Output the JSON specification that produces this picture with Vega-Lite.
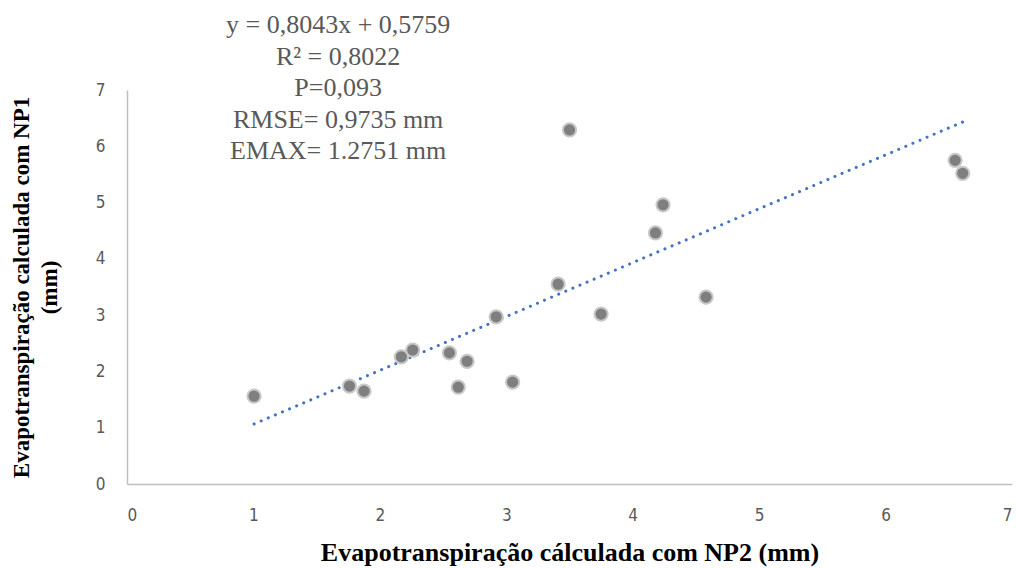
{
  "$schema": "https://vega.github.io/schema/vega-lite/v6.json",
  "autosize": "none",
  "width": 885,
  "height": 394,
  "padding": {"left": 127, "top": 90, "right": 4, "bottom": 84},
  "background": "white",
  "config": {"view": {"stroke": null}},
  "datasets": {
    "pts": [
      {"np2": 1.005, "np1": 1.56},
      {"np2": 1.76, "np1": 1.74},
      {"np2": 1.875, "np1": 1.65},
      {"np2": 2.17, "np1": 2.26},
      {"np2": 2.26, "np1": 2.38},
      {"np2": 2.55, "np1": 2.33},
      {"np2": 2.62, "np1": 1.72},
      {"np2": 2.69, "np1": 2.18},
      {"np2": 2.92, "np1": 2.97},
      {"np2": 3.05, "np1": 1.81},
      {"np2": 3.41, "np1": 3.55},
      {"np2": 3.50, "np1": 6.29},
      {"np2": 3.75, "np1": 3.02},
      {"np2": 4.18, "np1": 4.46},
      {"np2": 4.24, "np1": 4.96},
      {"np2": 4.58, "np1": 3.32},
      {"np2": 6.55, "np1": 5.75},
      {"np2": 6.61, "np1": 5.52}
    ],
    "trend": [
      {"np2": 1.005, "np1": 1.066},
      {"np2": 6.63, "np1": 6.45}
    ],
    "note": [
      {"np2": 1.67, "np1": 8.15, "txt": ["y = 0,8043x + 0,5759", "R² = 0,8022", "P=0,093", "RMSE= 0,9735 mm", "EMAX= 1.2751 mm"]}
    ]
  },
  "layer": [
    {
      "data": {"name": "trend"},
      "mark": {"type": "line", "color": "#4472c4", "strokeWidth": 3, "strokeDash": [0.1, 7.6], "strokeCap": "round"},
      "encoding": {
        "x": {
          "field": "np2", "type": "quantitative",
          "scale": {"domain": [0, 7]},
          "axis": {
            "title": "Evapotranspiração cálculada com NP2 (mm)",
            "titleFont": "Liberation Serif", "titleFontSize": 26, "titleFontWeight": "bold", "titleColor": "#000000",
            "titlePadding": 16,
            "labelFont": "DejaVu Sans Condensed", "labelFontSize": 17, "labelColor": "#595959",
            "labelPadding": 23, "ticks": false, "grid": false, "format": "d",
            "domainColor": "#bfbfbf", "domainWidth": 1.5, "values": [0,1,2,3,4,5,6,7]
          }
        },
        "y": {
          "field": "np1", "type": "quantitative",
          "scale": {"domain": [0, 7]},
          "axis": {
            "title": ["Evapotranspiração calculada com NP1", "(mm)"],
            "titleFont": "Liberation Serif", "titleFontSize": 23, "titleFontWeight": "bold", "titleColor": "#000000",
            "titlePadding": 34, "titleLineHeight": 28,
            "labelFont": "DejaVu Sans Condensed", "labelFontSize": 17, "labelColor": "#595959",
            "labelPadding": 22, "ticks": false, "grid": false, "format": "d",
            "domainColor": "#bfbfbf", "domainWidth": 1.5, "values": [0,1,2,3,4,5,6,7]
          }
        }
      }
    },
    {
      "data": {"name": "pts"},
      "mark": {"type": "point", "filled": true, "fill": "#7f7f7f", "stroke": "#c8c8c8", "strokeWidth": 2, "opacity": 1, "size": 175},
      "encoding": {
        "x": {"field": "np2", "type": "quantitative"},
        "y": {"field": "np1", "type": "quantitative"}
      }
    },
    {
      "data": {"name": "note"},
      "mark": {"type": "text", "font": "Liberation Serif", "fontSize": 26, "color": "#595959", "align": "center", "baseline": "middle", "lineHeight": 31.5, "clip": false},
      "encoding": {
        "x": {"field": "np2", "type": "quantitative"},
        "y": {"field": "np1", "type": "quantitative"},
        "text": {"field": "txt"}
      }
    }
  ]
}
